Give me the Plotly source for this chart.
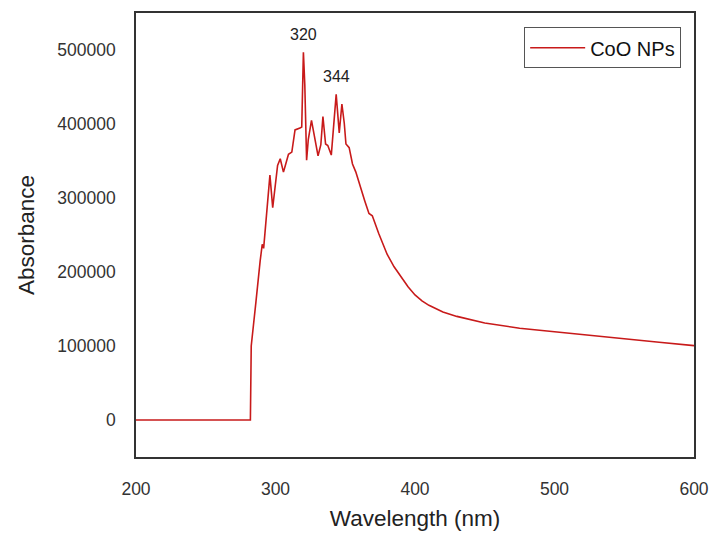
import plotly.graph_objects as go

wavelength = [200, 250, 282.0, 282.6, 283.4, 286, 289, 290.5, 291.5, 293, 296, 298, 300, 301.5, 303.4,
              305.7, 307.5, 309.3, 311.7, 314, 317.5, 318.8, 320, 321, 322.3, 323.5, 325.8, 328.2,
              330.5, 332.5, 334, 335.9, 337.5, 340, 343.5, 345.7, 347.6, 349.3, 350.5, 352.8, 355.2,
              357.6, 361.1, 364, 367, 369.4, 374, 377.6, 380, 385, 390, 395, 400, 405, 410, 420,
              430, 440, 450, 475, 500, 525, 550, 575, 600]
absorbance = [0, 0, 0, 100000, 113000, 160000, 215000, 237500, 232000, 262000, 331000, 287000, 318000,
              344000, 353000, 335000, 347000, 359000, 362000, 392000, 394500, 396000, 497000, 453000,
              351000, 379000, 405000, 379000, 357000, 372000, 410000, 373000, 371000, 358000, 440000,
              388000, 427000, 401000, 373000, 368000, 346000, 335000, 312000, 296000, 279000, 276000,
              252000, 235000, 224000, 207000, 193000, 180000, 169000, 161000, 155000, 146000, 140000,
              135000, 131000, 124000, 119000, 114000, 110000, 105000, 100500]
series_name = "CoO NPs"
peak_labels = ["320", "344"]
peak_x = [320, 344]
peak_y = [497000, 440000]

fig = go.Figure()
fig.add_trace(go.Scatter(x=wavelength, y=absorbance, mode="lines", name=series_name,
                         line=dict(color="#c81a1a", width=1.6)))

for lab, px, py in zip(peak_labels, peak_x, peak_y):
    fig.add_annotation(x=px, y=py, text=lab, showarrow=False, yshift=18,
                       font=dict(size=16, color="#222222"))

axis_common = dict(showgrid=False, zeroline=False, showline=True, linecolor="#333333",
                   linewidth=1.5, mirror=True, ticks="outside", ticklen=0,
                   tickfont=dict(size=17.5, color="#333333"),
                   title_font=dict(size=22.5, color="#222222"))

fig.update_xaxes(range=[200, 600], tickvals=[200, 300, 400, 500, 600],
                 title_text="Wavelength (nm)", ticklabelstandoff=15, title_standoff=12, **axis_common)
fig.update_yaxes(range=[-50000, 550000], tickvals=[0, 100000, 200000, 300000, 400000, 500000],
                 tickformat="d", title_text="Absorbance", ticklabelstandoff=15, title_standoff=16,
                 **axis_common)

fig.update_layout(
    width=720, height=538,
    margin=dict(l=136, r=17, t=11, b=72),
    plot_bgcolor="white", paper_bgcolor="white",
    font=dict(family="Liberation Sans, Arial, sans-serif"),
    showlegend=True,
    legend=dict(x=0.977, y=0.968, xanchor="right", yanchor="top",
                bordercolor="#555555", borderwidth=1, bgcolor="white",
                itemwidth=55, tracegroupgap=0,
                font=dict(size=20, color="#111111")),
)

fig.write_html("out.html")
